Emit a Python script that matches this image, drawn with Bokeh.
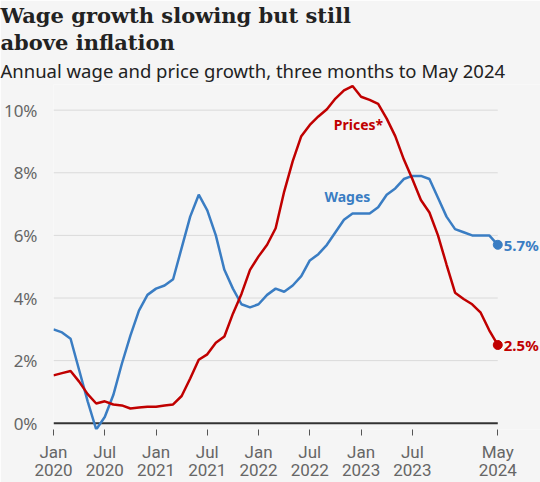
from bokeh.plotting import figure
from bokeh.models import Range1d, FixedTicker, Label, PrintfTickFormatter, Title
from bokeh.embed import file_html
from bokeh.resources import INLINE

# ---- data ----
months = [f"{y}-{m:02d}" for y in range(2020, 2025) for m in range(1, 13)][:53]

wages = [3.0, 2.9, 2.7, 1.7, 0.7, -0.2, 0.2, 0.9, 1.9, 2.8, 3.6, 4.1,
         4.3, 4.4, 4.6, 5.6, 6.6, 7.3, 6.8, 6.0, 4.9, 4.3, 3.8, 3.7,
         3.8, 4.1, 4.3, 4.2, 4.4, 4.7, 5.2, 5.4, 5.7, 6.1, 6.5, 6.7,
         6.7, 6.7, 6.9, 7.3, 7.5, 7.8, 7.9, 7.9, 7.8, 7.2, 6.6, 6.2,
         6.1, 6.0, 6.0, 6.0, 5.7]

prices = [1.53, 1.6, 1.67, 1.33, 0.93, 0.63, 0.7, 0.6, 0.57, 0.47, 0.5, 0.53,
          0.53, 0.57, 0.6, 0.87, 1.43, 2.03, 2.2, 2.57, 2.77, 3.5, 4.13, 4.9,
          5.33, 5.7, 6.23, 7.4, 8.37, 9.17, 9.53, 9.8, 10.03, 10.37, 10.63, 10.77,
          10.43, 10.33, 10.2, 9.73, 9.17, 8.43, 7.8, 7.13, 6.73, 6.0, 5.07, 4.17,
          3.97, 3.8, 3.53, 2.97, 2.5]

tick_months = ["2020-01", "2020-07", "2021-01", "2021-07", "2022-01",
               "2022-07", "2023-01", "2023-07", "2024-05"]
tick_labels = ["Jan\n2020", "Jul\n2020", "Jan\n2021", "Jul\n2021", "Jan\n2022",
               "Jul\n2022", "Jan\n2023", "Jul\n2023", "May\n2024"]
y_ticks = [0, 2, 4, 6, 8, 10]

title_text = "Wage growth slowing but still\nabove inflation"
subtitle = "Annual wage and price growth, three months to May 2024"
series_names = ["Wages", "Prices*"]

# ---- style ----
BG = "#f5f5f5"
BLUE = "#3a7dc3"
RED = "#c00000"
SANS = "Noto Sans"
TICK_FONT = "Roboto"
SERIF = "DejaVu Serif"
LEFT = 48

x = list(range(len(months)))
tick_x = [months.index(m) for m in tick_months]
x_last = x[-1]

p = figure(width=540, height=482, output_backend="svg", toolbar_location=None,
           x_range=Range1d(0, x_last + 5.0), y_range=Range1d(-0.2, 10.82),
           min_border_left=LEFT, min_border_right=0, min_border_top=0, min_border_bottom=0,
           background_fill_color=BG, border_fill_color=BG, outline_line_color=None)

# titles
p.add_layout(Title(text=subtitle, text_font=SANS, text_font_size="18.5px",
                   text_font_style="normal", text_color="#222222",
                   align="left", offset=-LEFT - 5, standoff=3), "above")
p.add_layout(Title(text=title_text, text_font=SERIF, text_font_size="21px",
                   text_font_style="bold", text_color="#222222", text_line_height=1.07,
                   align="left", offset=-LEFT - 5, standoff=0), "above")

# y axis
p.yaxis.ticker = FixedTicker(ticks=y_ticks)
p.yaxis.formatter = PrintfTickFormatter(format="%d%%")
p.yaxis.axis_line_color = None
p.yaxis.major_tick_line_color = None
p.yaxis.minor_tick_line_color = None
p.yaxis.major_label_standoff = 10
p.yaxis.major_label_text_font = SANS
p.yaxis.major_label_text_font_size = "17px"
p.yaxis.major_label_text_color = "#666666"

# x axis
p.xaxis.ticker = FixedTicker(ticks=tick_x)
p.xaxis.major_label_overrides = {t: l for t, l in zip(tick_x, tick_labels)}
p.xaxis.axis_line_color = None
p.xaxis.major_tick_in = 0
p.xaxis.major_tick_out = 6
p.xaxis.major_tick_line_color = "#555555"
p.xaxis.major_tick_line_width = 1
p.xaxis.minor_tick_line_color = None
p.xaxis.major_label_standoff = 6
p.xaxis.major_label_text_font = TICK_FONT
p.xaxis.major_label_text_font_size = "17px"
p.xaxis.major_label_text_color = "#666666"
p.xaxis.major_label_text_line_height = 0.92

p.grid.visible = False

# gridlines limited to the data span
grid_vals = [v for v in y_ticks if v != 0]
p.segment(x0=[x[0]] * len(grid_vals), x1=[x_last] * len(grid_vals), y0=grid_vals, y1=grid_vals,
          line_color="#dadada", line_width=1)
p.segment(x0=[x[0]], x1=[x_last], y0=[0], y1=[0], line_color="#333333", line_width=2)

p.line(x, wages, line_color=BLUE, line_width=2.5)
p.line(x, prices, line_color=RED, line_width=2.5)
p.scatter([x_last], [wages[-1]], size=9, color=BLUE)
p.scatter([x_last], [prices[-1]], size=9, color=RED)

for val, col in [(wages[-1], BLUE), (prices[-1], RED)]:
    p.add_layout(Label(x=x_last, y=val, text=f"{val}%", x_offset=6,
                       text_baseline="middle", text_align="left",
                       text_font=SANS, text_font_size="15px", text_font_style="bold",
                       text_color=col))

p.add_layout(Label(x=34.4, y=7.25, text=series_names[0], text_align="center",
                   text_baseline="middle", text_font=SANS, text_font_size="14px",
                   text_font_style="bold", text_color=BLUE))
p.add_layout(Label(x=35.7, y=9.53, text=series_names[1], text_align="center",
                   text_baseline="middle", text_font=SANS, text_font_size="14px",
                   text_font_style="bold", text_color=RED))

open("out.html", "w").write(file_html(p, INLINE))
